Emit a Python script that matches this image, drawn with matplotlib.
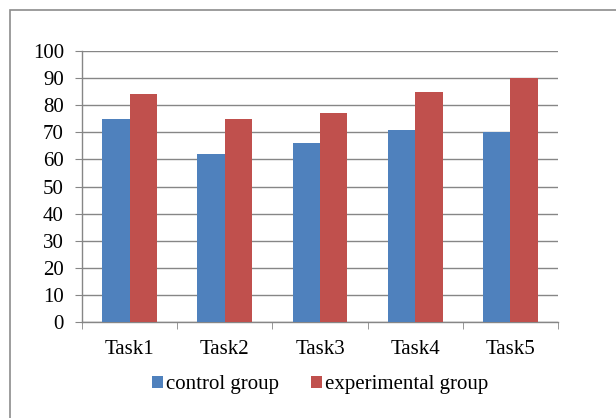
import numpy as np
import matplotlib
matplotlib.use("Agg")
import matplotlib.pyplot as plt
from matplotlib.patches import Rectangle

tasks = ["Task1", "Task2", "Task3", "Task4", "Task5"]
control = [75, 62, 66, 71, 70]
experimental = [84, 75, 77, 85, 90]
yticks = list(range(0, 101, 10))

plt.rcParams["font.family"] = ["Liberation Serif", "DejaVu Serif"]
plt.rcParams["font.size"] = 15

fig = plt.figure(figsize=(6.16, 4.18), dpi=100)
ax = fig.add_axes([82 / 616, 1 - 322 / 418, (558 - 82) / 616, (322 - 51) / 418])

# outer chart frame (cropped on the right and bottom)
fig.patches.append(Rectangle((10 / 616, -0.1), 1.2, 1 - 10 / 418 + 0.1,
                             transform=fig.transFigure, fill=False,
                             edgecolor="#8c8c8c", linewidth=1.2))

x = np.arange(len(tasks))
w = 0.287
ax.bar(x - w / 2, control, w, color="#4F81BD", label="control group", zorder=3)
ax.bar(x + w / 2, experimental, w, color="#C0504D", label="experimental group", zorder=3)

ax.set_xlim(-0.5, len(tasks) - 0.5)
ax.set_ylim(0, 100)
ax.set_yticks(yticks)
ax.set_xticks(x)
ax.set_xticklabels(tasks)
ax.set_xticks(np.arange(-0.5, len(tasks)), minor=True)
ax.tick_params(axis="x", which="major", length=0, pad=13)
ax.tick_params(axis="x", which="minor", length=5, color="#868686")
ax.tick_params(axis="y", length=5, color="#868686", pad=8)
ax.grid(axis="y", color="#868686", linewidth=1, zorder=0)
for s in ["top", "right"]:
    ax.spines[s].set_visible(False)
for s in ["left", "bottom"]:
    ax.spines[s].set_color("#868686")
    ax.spines[s].set_linewidth(1)

fig.legend(loc="center", bbox_to_anchor=(320 / 616, 1 - 385 / 418), ncol=2,
           frameon=False, handlelength=0.55, handleheight=0.55,
           handletextpad=0.15, columnspacing=1.5)

fig.savefig("out.png", dpi=100)
plt.close(fig)
